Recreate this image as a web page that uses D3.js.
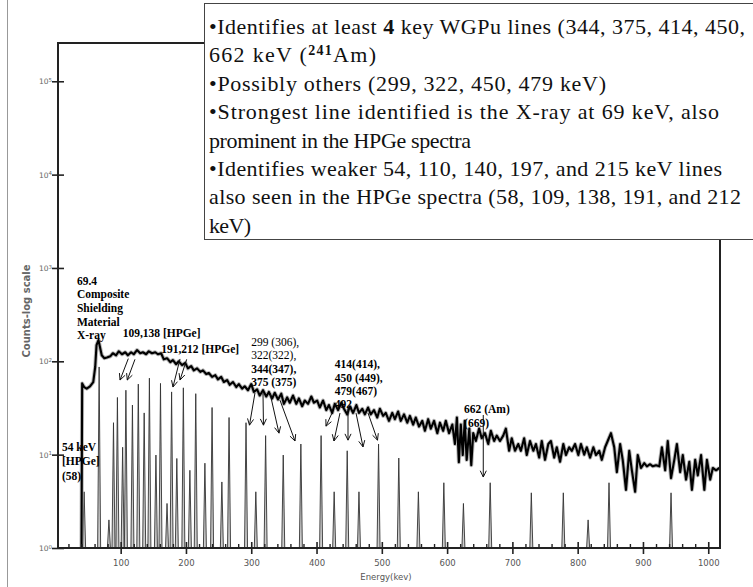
<!DOCTYPE html>
<html>
<head>
<meta charset="utf-8">
<script src="https://cdn.jsdelivr.net/npm/d3@7"></script>
<style>
  html, body { margin: 0; padding: 0; background: #fff; }
  svg { display: block; }
</style>
</head>
<body>
<svg id="chart" width="753" height="587"></svg>
<script>
// Measured spectrum, [energy keV, counts]
const spectrum = [
  [40,1],[41,58],[44,53],[48,51],[53,54],[58,60],[61,87],[63,149],[66,169],[68,145],[71,116],[75,108],
  [79,110],[84,113],[88,122],[93,116],[97,128],[102,119],[107,125],[111,116],[116,125],[120,119],[125,132],
  [130,122],[134,125],[139,119],[143,128],[148,122],[153,125],[157,119],[162,122],[166,105],[171,108],
  [176,98],[180,103],[185,93],[189,100],[194,91],[199,96],[203,84],[208,89],[212,80],[217,84],[222,77],
  [226,80],[231,73],[235,75],[240,68],[245,71],[249,64],[254,68],[258,60],[263,63],[267,56],[272,60],
  [277,53],[281,57],[286,51],[290,54],[295,49],[300,57],[304,47],[309,50],[313,43],[318,49],[323,42],
  [327,47],[332,40],[336,46],[341,39],[346,45],[350,35],[355,41],[359,36],[364,43],[369,35],[373,40],
  [378,33],[382,38],[387,35],[392,42],[396,36],[401,38],[405,32],[410,38],[415,30],[419,34],[424,28],
  [428,35],[433,30],[438,36],[442,31],[447,27],[451,33],[456,28],[461,34],[465,28],[470,31],[474,27],
  [479,32],[483,27],[488,30],[493,25],[497,31],[502,26],[506,28],[511,23],[516,28],[520,24],[525,29],
  [529,23],[534,27],[539,22],[543,26],[548,21],[552,25],[557,20],[562,23],[566,18],[571,24],[575,19],
  [580,23],[585,17],[589,22],[594,18],[598,23],[603,17],[608,21],[612,13],[615,25],[618,8.3],[621,21],
  [624,9.9],[627,23],[630,8.8],[634,19],[637,7.7],[640,17],[644,14],[649,19],[653,15],[658,17],[663,13],
  [667,18],[672,14],[676,16],[681,14],[686,16],[690,19],[695,11],[699,15],[704,11],[709,13],[713,11],
  [718,15],[722,9.9],[727,14],[732,11],[736,13],[741,9.3],[745,14],[750,8.8],[755,13],[759,14],[764,9.3],
  [768,12],[773,8.4],[778,13],[782,9.9],[787,12],[791,11],[796,13],[801,9.9],[805,13],[810,10],[814,12],
  [819,9.3],[824,12],[828,9.9],[833,11],[837,8.8],[842,12],[846,14],[851,17],[856,12],[860,6.5],[865,13],
  [869,8.8],[874,4.2],[879,11],[883,6.8],[888,4],[892,9.9],[897,7.2],[902,8.1],[906,7.5],[911,7.9],
  [915,7.5],[920,7.7],[925,7.5],[929,12],[934,6.8],[938,14],[943,5.6],[948,8.8],[952,13],[957,6.5],
  [961,9.9],[966,5.4],[971,8.4],[975,4.2],[980,8.8],[984,6],[989,9.9],[994,4.2],[998,8.8],[1003,5.4],
  [1007,7.2],[1012,6.8],[1017,7.2]
];

// Reference line spectrum (peak energy, peak counts)
const lineEnergy = [44,67,82,89,95,103,108,118,127,136,144,154,161,171,178,186,196,206,215,229,240,255,
  266,292,307,322,349,376,407,427,447,465,495,526,556,595,625,666,729,778,816,848,943];
const lineCounts = [4,87,2,22,41,12,49,34,57,28,66,9.9,58,3,47,9.1,52,6.8,45,8.1,32,5.1,
  25,22,4,16,9.9,13,16,4,11,4,13,9.2,4,5,3,5,3.9,3.9,2,5,3.9];

const xTicks = [100,200,300,400,500,600,700,800,900,1000];
const xMinorTicks = [20,40,60,80,120,140,160,180,220,240,260,280,320,340,360,380,420,440,460,480,
  520,540,560,580,620,640,660,680,720,740,760,780,820,840,860,880,920,940,960,980];
const yTicks = [1,10,100,1000,10000,100000];
const yTickExp = ["0","1","2","3","4","5"];

const annotationLines = [
  ["69.4","Composite","Shielding","Material","X-ray"],
  ["109,138 [HPGe]"],
  ["191,212 [HPGe]"],
  ["299 (306),","322(322),","344(347),","375 (375)"],
  ["414(414),","450 (449),","479(467)","492"],
  ["662 (Am)","(669)"],
  ["54 keV","[HPGe]","(58)"]
];
const annotationBold = [
  [1,1,1,1,1],[1],[1],[0,0,1,1],[1,1,1,1],[1,1],[1,1,1]
];
// anchor of each annotation (energy, counts)
const annotationAt = [[33,731],[103,203],[162,137],[300,162],[428,93],[626,31],[10,12.2]];

// arrows: from (energy, counts) to (energy, counts)
const arrows = [
  [111.7,107,99,63],[121.9,105,110.1,63],
  [190.9,106,180.1,53],[201.1,105,190.9,63],
  [305.7,45.7,297.3,20.7],[318,45.7,318.7,20.7],[328.7,45.7,342.5,17],[344,38.4,367,14],
  [423.7,27.9,414.5,20.2],[435.9,27.9,426.7,14],[448.2,32.3,448.2,14.3],[460.5,27.9,471.2,12.1],
  [478.9,27.9,493.4,14.3],
  [655.4,26.6,655.4,5.76]
];

const notes = [
  [["•Identifies at least ",0],["4",1],[" key WGPu lines (344, 375, 414, 450,",0]],
  [["662 keV (",0],["241",2],["Am)",0]],
  [["•Possibly others (299, 322, 450, 479 keV)",0]],
  [["•Strongest line identified is the X-ray at 69 keV, also",0]],
  [["prominent in the HPGe spectra",0]],
  [["•Identifies weaker 54, 110, 140, 197, and 215 keV lines",0]],
  [["also seen in the HPGe spectra (58, 109, 138, 191, and 212",0]],
  [["keV)",0]]
];
// rendered width of each note line in the picture
const noteWidth = [536, 167, 397, 510, 262, 513, 532, 42];

const svg = d3.select('#chart');

const x = d3.scaleLinear().domain([4, 1018]).range([58, 720]);
const y = d3.scaleLog().domain([1, Math.pow(10, 5.41)]).range([548, 43]);

// page edge line
svg.append('line')
  .attr('x1', 7.5).attr('x2', 7.5).attr('y1', 0).attr('y2', 587)
  .attr('stroke', '#999').attr('stroke-width', 1);

// line spectrum spikes
svg.append('g').selectAll('path')
  .data(lineEnergy)
  .join('path')
  .attr('d', (e, i) => `M${x(e - 2.3)},${y(1)}L${x(e)},${y(lineCounts[i])}L${x(e + 2.3)},${y(1)}`)
  .attr('fill', '#ccc')
  .attr('stroke', '#333')
  .attr('stroke-width', 0.9);

// measured spectrum
const line = d3.line().x(d => x(d[0])).y(d => y(d[1]));
svg.append('path')
  .datum(spectrum)
  .attr('d', line)
  .attr('fill', 'none')
  .attr('stroke', '#999')
  .attr('stroke-opacity', 0.7)
  .attr('stroke-width', 4)
  .attr('stroke-linejoin', 'round');
svg.append('path')
  .datum(spectrum)
  .attr('d', line)
  .attr('fill', 'none')
  .attr('stroke', '#000')
  .attr('stroke-width', 2.1)
  .attr('stroke-linejoin', 'round');

// frame
const [x0, x1] = x.range();
const [yb, yt] = y.range();
svg.append('path')
  .attr('d', `M${x0},${yt}L${x0},${yb}L${x1},${yb}L${x1},${yt}Z`)
  .attr('fill', 'none')
  .attr('stroke', '#222')
  .attr('stroke-width', 2);

// x axis
const xAxis = svg.append('g')
  .attr('transform', `translate(0,${yb})`)
  .call(d3.axisBottom(x).tickValues(xTicks).tickSize(7).tickFormat(d3.format('d')));
xAxis.select('.domain').remove();
xAxis.selectAll('.tick line').attr('y1', -6).attr('y2', 6).attr('stroke', '#222').attr('stroke-width', 1.6);
xAxis.selectAll('.tick text')
  .attr('y', 12).attr('dy', '0.71em')
  .attr('font-family', 'DejaVu Sans').attr('font-size', 8.5).attr('fill', '#555');

const xMinor = svg.append('g')
  .attr('transform', `translate(0,${yb})`)
  .call(d3.axisBottom(x).tickValues(xMinorTicks).tickSize(-4).tickFormat(''));
xMinor.select('.domain').remove();
xMinor.selectAll('.tick line').attr('stroke', '#222').attr('stroke-width', 1.4);

// y axis
const yAxis = svg.append('g')
  .attr('transform', `translate(${x0},0)`)
  .call(d3.axisLeft(y).tickValues(yTicks).tickSize(6).tickFormat(''));
yAxis.select('.domain').remove();
yAxis.selectAll('.tick line').attr('x1', -6).attr('x2', 6).attr('stroke', '#222').attr('stroke-width', 1.6);
yAxis.selectAll('.tick').append('text')
  .attr('x', -6).attr('dy', '0.32em')
  .attr('text-anchor', 'end')
  .attr('font-family', 'DejaVu Sans').attr('font-size', 7.5).attr('fill', '#666')
  .each(function (d, i) {
    const t = d3.select(this);
    t.append('tspan').text('10');
    t.append('tspan').attr('dy', '-0.4em').attr('font-size', 5.5).text(yTickExp[i]);
  });

// axis titles
svg.append('text')
  .attr('transform', 'translate(30,311) rotate(-90)')
  .attr('text-anchor', 'middle')
  .attr('font-family', 'DejaVu Sans').attr('font-size', 10).attr('font-weight', 'bold')
  .attr('fill', '#666')
  .text('Counts-log scale');
svg.append('text')
  .attr('x', 386).attr('y', 580)
  .attr('text-anchor', 'middle')
  .attr('font-family', 'DejaVu Sans').attr('font-size', 8.5)
  .attr('fill', '#555')
  .text('Energy(kev)');

// annotations
const lineGap = [13.7, 0, 0, 13.5, 13.4, 14, 14.7];
annotationLines.forEach((lines, k) => {
  const g = svg.append('text')
    .attr('x', x(annotationAt[k][0]))
    .attr('y', y(annotationAt[k][1]))
    .attr('font-family', 'Liberation Serif').attr('font-size', 11.5)
    .attr('fill', '#000');
  lines.forEach((s, j) => {
    g.append('tspan')
      .attr('x', x(annotationAt[k][0]))
      .attr('y', y(annotationAt[k][1]) + j * lineGap[k])
      .attr('dy', '0.35em')
      .attr('font-weight', annotationBold[k][j] ? 'bold' : 'normal')
      .text(s);
  });
});

// arrows
const ag = svg.append('g').attr('stroke', '#111').attr('stroke-width', 1).attr('fill', 'none');
arrows.forEach(a => {
  const px0 = x(a[0]), py0 = y(a[1]), px1 = x(a[2]), py1 = y(a[3]);
  const ang = Math.atan2(py1 - py0, px1 - px0);
  const L = 7, w = 0.45;
  ag.append('path').attr('d',
    `M${px0},${py0}L${px1},${py1}` +
    `M${px1 - L * Math.cos(ang - w)},${py1 - L * Math.sin(ang - w)}L${px1},${py1}` +
    `L${px1 - L * Math.cos(ang + w)},${py1 - L * Math.sin(ang + w)}`);
});

// note box
svg.append('rect')
  .attr('x', 204.5).attr('y', 3.5).attr('width', 600).attr('height', 236)
  .attr('fill', '#fff').attr('stroke', '#444').attr('stroke-width', 1);

notes.forEach((parts, i) => {
  const row = svg.append('text')
    .attr('font-family', 'Liberation Serif').attr('font-size', 22).attr('fill', '#111')
    .attr('x', 209).attr('y', 34 + i * 28.4)
    .attr('textLength', noteWidth[i]).attr('lengthAdjust', 'spacing');
  parts.forEach(p => {
    const t = row.append('tspan').text(p[0]);
    if (p[1] === 1) t.attr('font-weight', 'bold');
    if (p[1] === 2) t.attr('font-size', 14).attr('font-weight', 'bold').attr('baseline-shift', 'super');
  });
});
</script>
</body>
</html>
